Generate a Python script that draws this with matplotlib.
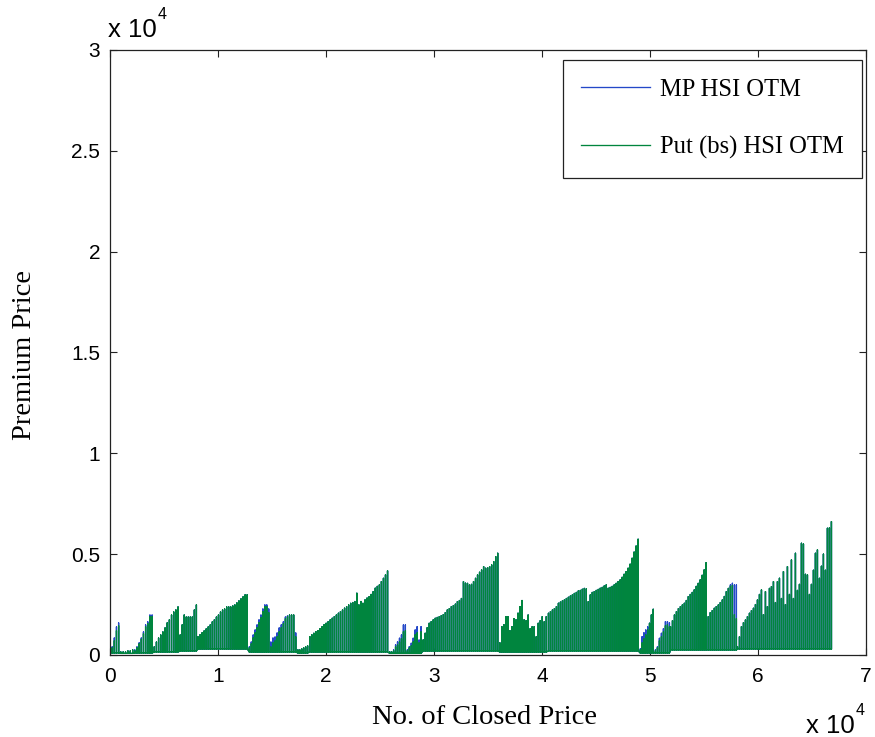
import numpy as np
import matplotlib
matplotlib.use("Agg")
import matplotlib.pyplot as plt

# each cluster = one run of daily spikes (x = no. of closed price)
cluster_start = [0, 1000, 2300, 4100, 6500, 8150, 12900, 14900, 17400, 18500,
                 25900, 29000, 36100, 40600, 49100, 50500, 51900, 55400, 58100]
cluster_end = [800, 2100, 3900, 6300, 8000, 12700, 14700, 17200, 18300, 25700,
               28800, 35900, 40400, 48900, 50300, 51800, 55200, 58000, 66800]
cluster_low = [100, 80, 100, 150, 200, 300, 150, 150, 100, 150,
               80, 200, 150, 200, 100, 100, 250, 250, 300]

# spike tops, Put (bs) HSI OTM
put_peaks = [
    [200, 350, 700, 1200, 1450],
    [150, 150, 150, 200, 200, 250],
    [200, 350, 550, 780, 1050, 1400, 1550, 1900, 1900],
    [400, 640, 840, 990, 1140, 1340, 1590, 1740, 1980, 2130, 2230, 2380],
    [990, 1490, 1980, 1880, 1880, 1880, 1880, 2230, 2480],
    [900, 1000, 1100, 1190, 1290, 1390, 1490, 1640, 1740, 1880, 1980, 2130, 2230,
     2280, 2380, 2380, 2380, 2430, 2480, 2580, 2680, 2780, 2880, 2980, 2980],
    [350, 550, 850, 1100, 1350, 1600, 1850, 2150, 2400, 2400, 2100],
    [400, 600, 700, 900, 1150, 1350, 1550, 1800, 1900, 1980, 1980, 1980, 900],
    [250, 250, 300, 350, 400, 450],
    [910, 1000, 1075, 1150, 1210, 1300, 1400, 1500, 1570, 1650,
     1740, 1820, 1900, 1980, 2070, 2150, 2230, 2320, 2400, 2480,
     2560, 2600, 2650, 3060, 2480, 2650, 2560, 2730, 2820, 2890,
     3000, 3140, 3310, 3400, 3470, 3640, 3800, 3970, 4170],
    [150, 150, 200, 400, 500, 650, 800, 1150, 1200, 200, 350, 450, 650, 1000, 1100, 600, 1150],
    [744, 1075, 1350, 1571, 1650, 1740, 1819, 1860, 1900, 1950,
     2000, 2100, 2232, 2300, 2398, 2450, 2520, 2646, 2700, 2800,
     3637, 3560, 3550, 3470, 3500, 3640, 3800, 3968, 4100, 4216,
     4381, 4300, 4330, 4380, 4464, 4630, 4878, 5043],
    [600, 1400, 1500, 1900, 1900, 1200, 1400, 1800, 1740, 2070, 2400, 2700,
     1740, 1700, 1980, 1300, 1400, 1400, 900, 1570, 1700, 1900, 1650, 1900],
    [2067, 2150, 2232, 2300, 2400, 2563, 2620, 2680, 2728, 2800,
     2860, 2920, 2976, 3050, 3100, 3175, 3200, 3257, 3300, 3280,
     2646, 2976, 3100, 3141, 3200, 3250, 3307, 3350, 3420, 3472,
     3307, 3350, 3400, 3472, 3550, 3640, 3720, 3850, 4000, 4134,
     4300, 4500, 4795, 5100, 5400, 5737],
    [250, 600, 800, 1000, 1240, 1571, 1984, 2265],
    [200, 350, 700, 900, 1150, 1450, 1500, 1400],
    [1405, 1700, 1984, 2150, 2300, 2398, 2480, 2563, 2700, 2894,
     3000, 3100, 3224, 3400, 3550, 3720, 3950, 4216, 4580],
    [1901, 2100, 2200, 2315, 2400, 2480, 2600, 2728, 2900, 3141, 3300, 3400, 3450, 2000, 1800],
    [413, 900, 1405, 1600, 1736, 1900, 2067, 2200, 2315, 2500,
     2728, 3000, 3224, 2000, 3141, 2400, 3300, 3390, 3637, 2600,
     3637, 3803, 2800, 4134, 2500, 4381, 3000, 4712, 2800, 5043,
     3200, 3500, 5539, 5500, 4000, 3968, 3000, 3500, 4200, 5043,
     5208, 3800, 4400, 5000, 4200, 6283, 6300, 6614],
]

# MP HSI OTM tops, only where they differ from the put series
mp_peaks = list(put_peaks)
mp_peaks[0] = [250, 400, 840, 1390, 1590]
mp_peaks[2] = [250, 400, 600, 840, 1140, 1490, 1640, 1980, 1980]
mp_peaks[6] = [400, 640, 990, 1240, 1490, 1740, 1980, 2280, 2480, 2480, 2280]
mp_peaks[7] = [640, 840, 890, 1090, 1340, 1490, 1640, 1880, 1930, 1980, 1980, 1980, 1090]
mp_peaks[10] = [165, 165, 250, 500, 650, 830, 990, 1490, 1490, 250, 410, 580, 830, 1240, 1400, 740, 1400]
mp_peaks[14] = [300, 909, 1100, 1240, 1400, 1571, 1984, 2265]
mp_peaks[15] = [250, 400, 827, 1075, 1300, 1653, 1653, 1600]
mp_peaks[17] = [1901, 2100, 2200, 2315, 2400, 2480, 2600, 2728, 2900, 3141, 3300, 3472, 3555, 3472, 3472]

xtick_vals = [0, 10000, 20000, 30000, 40000, 50000, 60000, 70000]
xtick_text = ['0', '1', '2', '3', '4', '5', '6', '7']
ytick_vals = [0, 5000, 10000, 15000, 20000, 25000, 30000]
ytick_text = ['0', '0.5', '1', '1.5', '2', '2.5', '3']


def spikes(peaks):
    xs, ys = [], []
    for s, e, lo, p in zip(cluster_start, cluster_end, cluster_low, peaks):
        for x, v in zip(np.linspace(s, e, len(p)), p):
            xs += [x, x, x]
            ys += [lo, v, lo]
    return xs, ys


fig = plt.figure(figsize=(8.75, 7.37), dpi=100)
ax = fig.add_axes([0.1257, 0.1113, 0.864, 0.8209])

mx, my = spikes(mp_peaks)
gx, gy = spikes(put_peaks)
ax.plot(mx, my, color='#2448c8', lw=0.95, label='MP HSI OTM')
ax.plot(gx, gy, color='#00853e', lw=0.95, label='Put (bs) HSI OTM')

ax.set_xlim(0, 70000)
ax.set_ylim(0, 30000)
ax.set_xticks(xtick_vals)
ax.set_xticklabels(xtick_text)
ax.set_yticks(ytick_vals)
ax.set_yticklabels(ytick_text)
for lab in ax.get_xticklabels() + ax.get_yticklabels():
    lab.set_family('Liberation Sans')
    lab.set_fontsize(15)
ax.tick_params(direction='in', length=5, width=0.8, top=True, right=True, color='#222222')
ax.tick_params(axis='x', pad=9)
ax.tick_params(axis='y', pad=7)
for sp in ax.spines.values():
    sp.set_linewidth(0.9)
    sp.set_color('#222222')

fig.text(485/875, 1 - 718/737, 'No. of Closed Price', family='Liberation Serif',
         fontsize=20.5, ha='center', va='center')
fig.text(25/875, 1 - 355/737, 'Premium Price', family='Liberation Serif',
         fontsize=20.5, ha='center', va='center', rotation=90)
# MATLAB style exponent labels
fig.text(108/875, 1 - 37/737, 'x 10', family='Liberation Sans', fontsize=18.5,
         ha='left', va='baseline')
fig.text(158/875, 1 - 19/737, '4', family='Liberation Sans', fontsize=11.5,
         ha='left', va='baseline')
fig.text(806/875, 1 - 733/737, 'x 10', family='Liberation Sans', fontsize=18.5,
         ha='left', va='baseline')
fig.text(856/875, 1 - 715/737, '4', family='Liberation Sans', fontsize=11.5,
         ha='left', va='baseline')

leg = ax.legend(loc='upper right', bbox_to_anchor=(862/875, 1 - 60/737),
                bbox_transform=fig.transFigure, borderaxespad=0,
                prop={'family': 'Liberation Serif', 'size': 17.7},
                handlelength=2.8, handletextpad=0.4, labelspacing=1.45,
                borderpad=0.75, fancybox=False, framealpha=1)
leg.get_frame().set_edgecolor('#222222')
leg.get_frame().set_linewidth(0.9)

fig.savefig('out.png', dpi=100)
